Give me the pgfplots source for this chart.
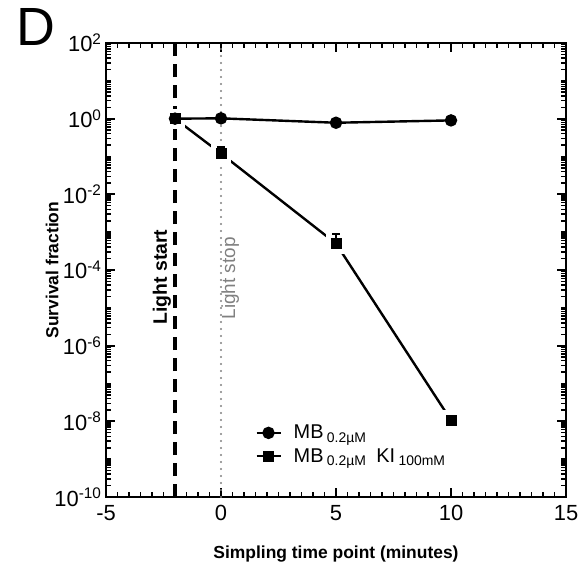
\documentclass[border=0pt]{standalone}
\usepackage{pgfplots}
\pgfplotsset{compat=1.18}
\usetikzlibrary{calc}
\usepackage{fontspec}
\setmainfont{Liberation Sans}
\begin{document}
\begin{tikzpicture}[x=1bp,y=1bp]
\begin{axis}[
  name=ax,
  scale only axis,
  width=460bp, height=454bp,
  xmin=-5, xmax=15,
  ymode=log, ymin=1e-10, ymax=1e2,
  axis line style={line width=2.6bp},
  major tick style={line width=1.8bp, black},
  minor tick style={line width=1.5bp, black},
  tick align=inside,
  major tick length=9bp,
  minor tick length=5bp,
  xminorticks=true, yminorticks=true,
  xtick={-5,0,5,10,15},
  minor xtick={-4.5,-4,-3.5,-3,-2.5,-2,-1.5,-1,-0.5,0.5,1,1.5,2,2.5,3,3.5,4,4.5,5.5,6,6.5,7,7.5,8,8.5,9,9.5,10.5,11,11.5,12,12.5,13,13.5,14,14.5},
  ytick={1e-10,1e-8,1e-6,1e-4,1e-2,1,1e2},
  minor ytick={
   2e-10,3e-10,4e-10,5e-10,6e-10,7e-10,8e-10,9e-10,1e-9,
   2e-9,3e-9,4e-9,5e-9,6e-9,7e-9,8e-9,9e-9,
   2e-8,3e-8,4e-8,5e-8,6e-8,7e-8,8e-8,9e-8,1e-7,
   2e-7,3e-7,4e-7,5e-7,6e-7,7e-7,8e-7,9e-7,
   2e-6,3e-6,4e-6,5e-6,6e-6,7e-6,8e-6,9e-6,1e-5,
   2e-5,3e-5,4e-5,5e-5,6e-5,7e-5,8e-5,9e-5,
   2e-4,3e-4,4e-4,5e-4,6e-4,7e-4,8e-4,9e-4,1e-3,
   2e-3,3e-3,4e-3,5e-3,6e-3,7e-3,8e-3,9e-3,
   2e-2,3e-2,4e-2,5e-2,6e-2,7e-2,8e-2,9e-2,1e-1,
   2e-1,3e-1,4e-1,5e-1,6e-1,7e-1,8e-1,9e-1,
   2,3,4,5,6,7,8,9,10,20,30,40,50,60,70,80,90},
  yticklabels={10\textsuperscript{-10},10\textsuperscript{-8},10\textsuperscript{-6},10\textsuperscript{-4},10\textsuperscript{-2},10\textsuperscript{0},10\textsuperscript{2}},
  /pgf/number format/assume math mode=true,
  ticklabel style={font=\fontsize{22}{24}\selectfont},
  xticklabel style={yshift=-5bp},
  yticklabel style={xshift=-1bp},
  xlabel={\bfseries Simpling time point (minutes)},
  ylabel={\bfseries Survival fraction},
  label style={font=\fontsize{17.5}{21}\selectfont\bfseries},
  xlabel style={yshift=-18bp},
  ylabel style={yshift=-11bp},
  legend style={draw=none, fill=none, at={(rel axis cs:0.322,0.165)}, anchor=north west,
    font=\fontsize{20}{22}\selectfont, row sep=4bp, inner sep=1bp,
    /tikz/every odd column/.append style={column sep=10bp}},
  legend cell align=left,
  legend image code/.code={\draw[#1] (0bp,0bp) -- (24bp,0bp); \path[#1, only marks] plot coordinates {(12bp,0bp)};},
  clip=false,
  clip marker paths=true,
]
% vertical markers
\addplot[black, line width=3.4bp, dash pattern=on 13bp off 8bp, forget plot] coordinates {(-2,1e-10) (-2,1e2)};
\addplot[gray, line width=2.4bp, dash pattern=on 0bp off 7bp, line cap=round, forget plot] coordinates {(0,1e-10) (0,1e2)};
\node[rotate=90, anchor=west, font=\fontsize{19.5}{22}\selectfont\bfseries] at (axis cs:-2.57,2.9e-6) {Light start};
\node[rotate=90, anchor=west, font=\fontsize{19}{22}\selectfont, text=gray] at (axis cs:0.4,4e-6) {Light stop};
% MB 0.2uM KI 100mM : line with gaps around markers
\addplot[black, line width=2.4bp, mark=square*, mark size=7.5bp, mark options={fill=black, draw=white, line width=5bp}, forget plot]
  coordinates {(-2,1.0) (0,0.12) (5,5e-4) (10,1.07e-8)};
% MB 0.2uM
\addplot[black, line width=2.4bp, mark=*, mark size=5bp,
  error bars/.cd, y dir=plus, y explicit, error bar style={line width=2bp}, error mark options={rotate=90, mark size=4bp, line width=2bp}]
  coordinates {(-2,1.0) (0,1.02) (5,0.78) +- (0,0.03) (10,0.90) +- (0,0.12)};
\addlegendentry{MB\,\textsubscript{0.2µM}}
% MB 0.2uM KI 100mM : markers and error bars
\addplot[black, only marks, mark=square*, mark size=5bp,
  legend image code/.code={\draw[black, line width=2.4bp] (0bp,0bp) -- (24bp,0bp); \fill[black] (7bp,-5bp) rectangle (17bp,5bp);},
  error bars/.cd, y dir=plus, y explicit, error bar style={line width=2bp}, error mark options={rotate=90, mark size=4bp, line width=2bp}]
  coordinates {(-2,1.0) (0,0.12) +- (0,0.06) (5,5e-4) +- (0,4e-4) (10,1.07e-8)};
\addlegendentry{MB\,\textsubscript{0.2µM}\enspace KI\,\textsubscript{100mM}}
\end{axis}
\node[anchor=north west, font=\fontsize{54}{58}\selectfont, inner sep=0pt] at ($(ax.north west)+(-90bp,35bp)$) {D};
\path (ax.south west) ++(-106bp,-77bp) coordinate (bl);
\path (ax.north east) ++(16bp,43bp) coordinate (tr);
\path (bl) rectangle (tr);
\end{tikzpicture}
\end{document}
